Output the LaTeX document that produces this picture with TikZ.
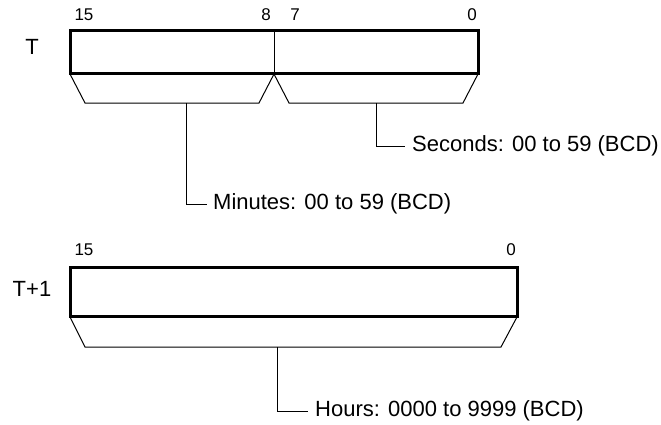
\documentclass[tikz,border=0pt]{standalone}
\usepackage{fontspec}
\setmainfont{Liberation Sans}
\begin{document}
\begin{tikzpicture}[x=1pt,y=-1pt,
  thinl/.style={line width=1pt, line join=miter},
  box/.style={line width=3pt, line join=miter},
  lbl/.style={font=\fontsize{22}{26}\selectfont, inner sep=0pt, anchor=west},
  bitn/.style={font=\fontsize{17}{20}\selectfont, inner sep=0pt},
  regn/.style={font=\fontsize{22}{26}\selectfont, inner sep=0pt}]
\useasboundingbox (0,0) rectangle (661,424);
% top register
\draw[box] (70,30) rectangle (478,73);
\draw[thinl] (274,30) -- (274,73);
\node[regn] (T) at (32,47) {T};
\node[bitn] (b15a) at (84,15) {15};
\node[bitn] (b8) at (266,15) {8};
\node[bitn] (b7) at (295,15) {7};
\node[bitn] (b0a) at (472,15) {0};
% brackets
\draw[thinl] (70,74) -- (85,103) -- (259,103) -- (274,74) -- (289,103) -- (463,103) -- (478,74);
\coordinate (mS) at (186,103);
\coordinate (sS) at (376,103);
\node[lbl] (sec) at (412,146) {Seconds: 00 to 59 (BCD)};
\node[lbl] (min) at (213,204) {Minutes: 00 to 59 (BCD)};
\draw[thinl] (sS) |- ([xshift=-7pt]sec.west);
\draw[thinl] (mS) |- ([xshift=-6pt]min.west);
% bottom register
\draw[box] (70,267) rectangle (517,316);
\node[regn] (T1) at (32,289) {T+1};
\node[bitn] (b15b) at (84,250) {15};
\node[bitn] (b0b) at (511,250) {0};
\draw[thinl] (70,317) -- (85,347) -- (501,347) -- (517,317);
\coordinate (hS) at (277,347);
\node[lbl] (hrs) at (315,411) {Hours: 0000 to 9999 (BCD)};
\draw[thinl] (hS) |- ([xshift=-7pt]hrs.west);
\end{tikzpicture}
\end{document}
